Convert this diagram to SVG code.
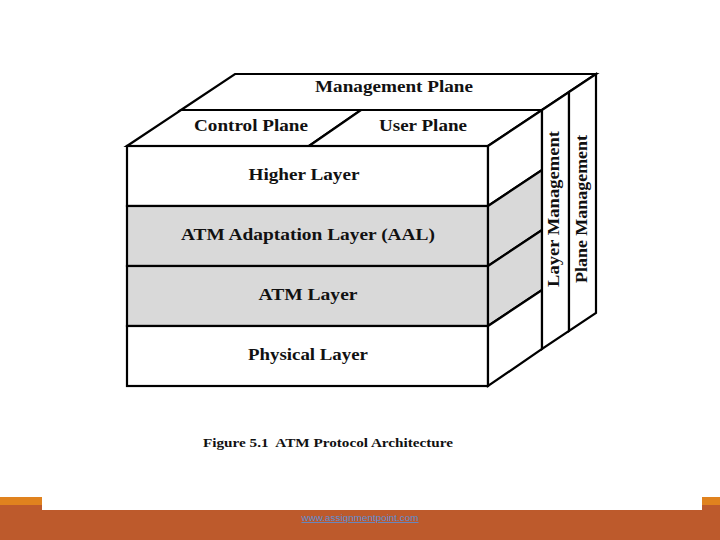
<svg xmlns="http://www.w3.org/2000/svg" width="720" height="540" viewBox="0 0 720 540">
<style>
.ln{fill:none;stroke:#000;stroke-width:2.2;stroke-linejoin:miter}
.wf{fill:#fff;stroke:#000;stroke-width:2.2}
.gf{fill:#d9d9d9;stroke:#000;stroke-width:2.2}
.t{font-family:"Liberation Serif","Times New Roman",serif;font-weight:bold;font-size:17px;fill:#111;text-anchor:middle}
.cap{font-family:"Liberation Serif","Times New Roman",serif;font-weight:bold;font-size:13.5px;fill:#111}
</style>
<rect width="720" height="540" fill="#fff"/>
<g id="management-plane">
<polygon class="wf" points="235,74 596,74 542,110 181,110"/>
<text class="t" x="394" y="92" textLength="158" lengthAdjust="spacingAndGlyphs">Management Plane</text>
</g>
<g id="control-plane">
<polygon class="wf" points="181,110 361,110 309,146 127,146"/>
<text class="t" x="251" y="131" textLength="114" lengthAdjust="spacingAndGlyphs">Control Plane</text>
</g>
<g id="user-plane">
<polygon class="wf" points="361,110 542,110 488,146 309,146"/>
<text class="t" x="423" y="131" textLength="88" lengthAdjust="spacingAndGlyphs">User Plane</text>
</g>
<g id="higher-layer">
<rect class="wf" x="127" y="146" width="361" height="60"/>
<polygon class="wf" points="488,146 542,110 542,170 488,206"/>
<text class="t" x="304" y="180" textLength="111" lengthAdjust="spacingAndGlyphs">Higher Layer</text>
</g>
<g id="aal-layer">
<rect class="gf" x="127" y="206" width="361" height="60"/>
<polygon class="gf" points="488,206 542,170 542,230 488,266"/>
<text class="t" x="308" y="240" textLength="254" lengthAdjust="spacingAndGlyphs">ATM Adaptation Layer (AAL)</text>
</g>
<g id="atm-layer">
<rect class="gf" x="127" y="266" width="361" height="60"/>
<polygon class="gf" points="488,266 542,230 542,290 488,326"/>
<text class="t" x="308" y="300" textLength="99" lengthAdjust="spacingAndGlyphs">ATM Layer</text>
</g>
<g id="physical-layer">
<rect class="wf" x="127" y="326" width="361" height="60"/>
<polygon class="wf" points="488,326 542,290 542,349 488,386"/>
<text class="t" x="308" y="360" textLength="120" lengthAdjust="spacingAndGlyphs">Physical Layer</text>
</g>
<g id="layer-management">
<polygon class="wf" points="542,110 569,92 569,331 542,349"/>
<text class="t" transform="translate(559,209) rotate(-90)" textLength="156" lengthAdjust="spacingAndGlyphs">Layer Management</text>
</g>
<g id="plane-management">
<polygon class="wf" points="569,92 596,74 596,313 569,331"/>
<text class="t" transform="translate(587,209) rotate(-90)" textLength="148" lengthAdjust="spacingAndGlyphs">Plane Management</text>
</g>
<g id="caption">
<text class="cap" x="203" y="447" textLength="250" lengthAdjust="spacingAndGlyphs">Figure 5.1&#160; ATM Protocol Architecture</text>
</g>
<g id="footer">
<rect x="0" y="497" width="42" height="8" fill="#E0821E"/>
<rect x="702" y="497" width="18" height="8" fill="#E0821E"/>
<rect x="0" y="505" width="42" height="5" fill="#BD5A2C"/>
<rect x="702" y="505" width="18" height="5" fill="#BD5A2C"/>
<rect x="0" y="510" width="720" height="30" fill="#BD5A2C"/>
<text x="360" y="521" font-family="Liberation Sans, Arial, sans-serif" font-size="8.5" fill="#5b8fd6" text-anchor="middle" text-decoration="underline" textLength="117" lengthAdjust="spacingAndGlyphs">www.assignmentpoint.com</text>
</g>
</svg>
